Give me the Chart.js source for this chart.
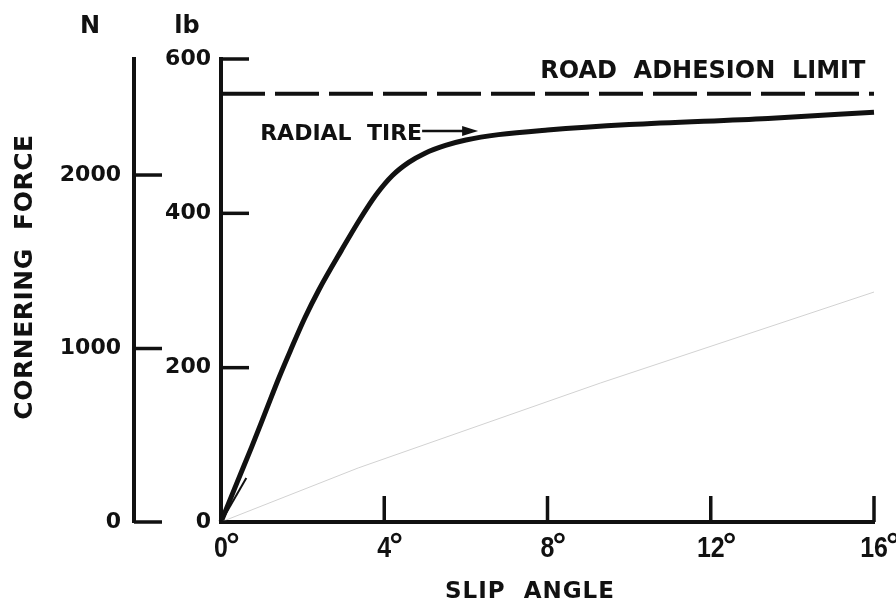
<!DOCTYPE html>
<html>
<head>
<meta charset="utf-8">
<script src="https://cdn.jsdelivr.net/npm/chart.js@4.4.1/dist/chart.umd.min.js"></script>
<style>
  html, body { margin: 0; padding: 0; background: #ffffff; }
  #wrap { width: 896px; height: 603px; }
</style>
</head>
<body>
<div id="wrap"><canvas id="c" width="896" height="603"></canvas></div>
<script>
// ---- data ----
const slipAngleDeg = [0, 0.4, 0.75, 1.1, 1.42, 1.7, 2.05, 2.4, 2.95, 3.4, 3.8, 4.2, 4.6, 5.0, 5.5, 6.0, 6.8, 8.0, 10.0, 13.4, 16.0];
const radialTireLb = [0, 52, 97, 144, 187, 222, 264, 301, 352, 392, 424, 449, 466, 478, 488, 495, 502, 508, 515, 523, 531];
const adhesionSlip = [0, 16];
const adhesionLimitLb = [555, 555];
const faintSlip = [0, 3.36, 9.29, 16];
const faintLb = [0, 70, 180, 298];
const stubSlip = [0, 0.62];
const stubLb = [0, 57];
const xTickValues = [0, 4, 8, 12, 16];
const lbTickValues = [0, 200, 400, 600];
const nTickValues = [0, 1000, 2000];
const LB_TO_N = 4.448;

const INK = '#111111';
const FONT = '"DejaVu Sans", sans-serif';
const FONT2 = '"Liberation Sans", Arial, sans-serif';

function pts(xs, ys) { return xs.map((x, i) => ({ x: x, y: ys[i] })); }

const decorPlugin = {
  id: 'decor',
  afterDraw(chart) {
    const ctx = chart.ctx;
    const xs = chart.scales.x, ys = chart.scales.y, ns = chart.scales.yN;
    ctx.save();
    ctx.strokeStyle = INK; ctx.fillStyle = INK; ctx.lineCap = 'butt';
    ctx.lineWidth = 3.5;
    const line = (x1, y1, x2, y2) => { ctx.beginPath(); ctx.moveTo(x1, y1); ctx.lineTo(x2, y2); ctx.stroke(); };
    // inward tick marks
    lbTickValues.forEach(v => { const py = ys.getPixelForValue(v); line(ys.right, py, ys.right + 28, py); });
    nTickValues.forEach(v => { const py = ns.getPixelForValue(v); line(ns.right, py, ns.right + 28, py); });
    xTickValues.forEach(v => { if (v === 0) return; const px = xs.getPixelForValue(v); line(px, xs.top, px, xs.top - 26); });

    // x tick labels: number centred on tick, degree sign after it (slightly condensed lettering)
    ctx.textBaseline = 'alphabetic';
    xTickValues.forEach(v => {
      const px = xs.getPixelForValue(v);
      const s = String(v);
      ctx.save();
      ctx.translate(px, xs.top + 35);
      ctx.scale(0.86, 1);
      ctx.font = 'bold 29px ' + FONT2;
      const w = ctx.measureText(s).width;
      ctx.textAlign = 'center';
      ctx.fillText(s, 0, 0);
      ctx.restore();
      // degree sign as a small ring at the top right of the number
      ctx.save();
      ctx.lineWidth = 2.6;
      ctx.beginPath();
      ctx.arc(px + w * 0.43 + 5, xs.top + 16, 4, 0, Math.PI * 2);
      ctx.stroke();
      ctx.restore();
    });

    // axis unit labels
    ctx.textAlign = 'center';
    ctx.font = 'bold 24px ' + FONT;
    ctx.fillText('N', ns.right - 44, 33);
    ctx.fillText('lb', ys.right - 34, 33);

    // axis titles
    try { ctx.letterSpacing = '1px'; } catch (e) {}
    ctx.font = 'bold 23px ' + FONT;
    ctx.fillText('SLIP  ANGLE', 530, 598);
    try { ctx.letterSpacing = '0.5px'; } catch (e) {}
    ctx.save();
    ctx.translate(32, 277);
    ctx.rotate(-Math.PI / 2);
    ctx.font = 'bold 25px ' + FONT;
    ctx.textAlign = 'center';
    ctx.fillText('CORNERING  FORCE', 0, 0);
    ctx.restore();

    // annotations
    try { ctx.letterSpacing = '0px'; } catch (e) {}
    ctx.font = 'bold 24px ' + FONT;
    ctx.textAlign = 'left';
    ctx.fillText('ROAD  ADHESION  LIMIT', xs.getPixelForValue(7.82), ys.getPixelForValue(575));

    const tipX = xs.getPixelForValue(6.3), tipY = ys.getPixelForValue(508);
    ctx.font = 'bold 22px ' + FONT;
    ctx.textAlign = 'right';
    ctx.fillText('RADIAL  TIRE', tipX - 56, tipY + 10);
    ctx.lineWidth = 2.5;
    line(tipX - 56, tipY + 1, tipX - 12, tipY + 1);
    ctx.beginPath();
    ctx.moveTo(tipX, tipY + 1);
    ctx.lineTo(tipX - 16, tipY - 4);
    ctx.lineTo(tipX - 16, tipY + 6);
    ctx.closePath();
    ctx.fill();
    ctx.restore();
  }
};

new Chart(document.getElementById('c'), {
  type: 'scatter',
  data: {
    datasets: [
      { label: 'faint', data: pts(faintSlip, faintLb), showLine: true, borderColor: '#d2d2d2', borderWidth: 1, pointRadius: 0, clip: false, yAxisID: 'y' },
      { label: 'stub', data: pts(stubSlip, stubLb), showLine: true, borderColor: INK, borderWidth: 2, pointRadius: 0, clip: false, yAxisID: 'y' },
      { label: 'Road adhesion limit', data: pts(adhesionSlip, adhesionLimitLb), showLine: true, borderColor: INK, borderWidth: 4, borderDash: [44, 10], borderCapStyle: 'butt', pointRadius: 0, clip: false, yAxisID: 'y' },
      { label: 'Radial tire', data: pts(slipAngleDeg, radialTireLb), showLine: true, borderColor: INK, borderWidth: 5, borderJoinStyle: 'round', cubicInterpolationMode: 'monotone', pointRadius: 0, clip: false, yAxisID: 'y' }
    ]
  },
  options: {
    responsive: false,
    animation: false,
    events: [],
    layout: { padding: { top: 59, right: 22, left: 0, bottom: 0 } },
    plugins: { legend: { display: false }, tooltip: { enabled: false } },
    scales: {
      x: {
        type: 'linear', position: 'bottom', min: 0, max: 16,
        afterBuildTicks: s => { s.ticks = xTickValues.map(v => ({ value: v })); },
        ticks: { display: false },
        grid: { display: false, drawTicks: false },
        border: { display: true, width: 4, color: INK },
        afterFit: s => { s.height = 81; }
      },
      y: {
        type: 'linear', position: 'left', weight: 0, min: 0, max: 600,
        afterBuildTicks: s => { s.ticks = lbTickValues.map(v => ({ value: v })); },
        ticks: { padding: 10, color: INK, font: { family: FONT, size: 22, weight: 'bold' }, callback: v => String(v) },
        grid: { display: false, drawTicks: false },
        border: { display: true, width: 4, color: INK },
        afterFit: s => { s.width = 87; }
      },
      yN: {
        type: 'linear', axis: 'y', position: 'left', weight: 1, min: 0, max: 600 * LB_TO_N,
        afterBuildTicks: s => { s.ticks = nTickValues.map(v => ({ value: v })); },
        ticks: { padding: 13, color: INK, font: { family: FONT, size: 22, weight: 'bold' }, callback: v => String(v) },
        grid: { display: false, drawTicks: false },
        border: { display: true, width: 4, color: INK },
        afterFit: s => { s.width = 134; }
      }
    }
  },
  plugins: [decorPlugin]
});
</script>
</body>
</html>
